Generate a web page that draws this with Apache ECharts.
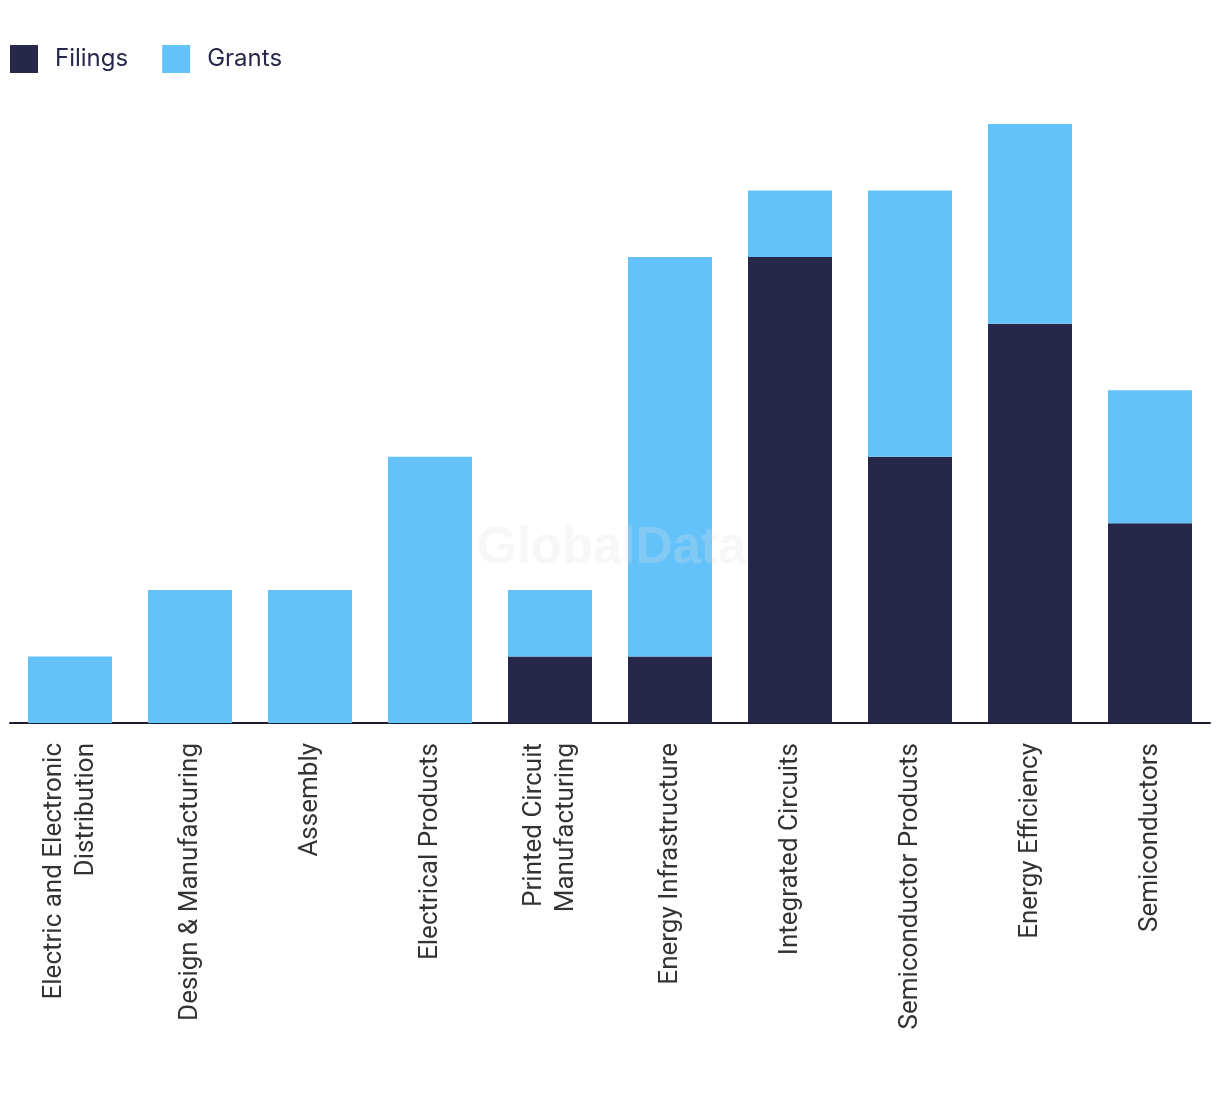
<!DOCTYPE html>
<html>
<head>
<meta charset="utf-8">
<script src="https://cdn.jsdelivr.net/npm/echarts@6/dist/echarts.min.js"></script>
<style>html,body{margin:0;padding:0;background:#fff;}#c{width:1220px;height:1094px;}</style>
</head>
<body>
<div id="c"></div>
<script>
const categories = [
  "Electric and Electronic\nDistribution",
  "Design & Manufacturing",
  "Assembly",
  "Electrical Products",
  "Printed Circuit\nManufacturing",
  "Energy Infrastructure",
  "Integrated Circuits",
  "Semiconductor Products",
  "Energy Efficiency",
  "Semiconductors"
];
const filings = [0, 0, 0, 0, 1, 1, 7, 4, 6, 3];
const grants = [1, 2, 2, 4, 1, 6, 1, 4, 3, 2];

const chart = echarts.init(document.getElementById('c'));
chart.setOption({
  animation: false,
  legend: {
    left: 10, top: 45, padding: 0,
    itemWidth: 28, itemHeight: 28, itemGap: 34,
    icon: 'rect',
    textStyle: { fontSize: 24, color: '#262749', fontFamily: 'Inter', padding: [0, 0, 0, 12] },
    data: ['Filings', 'Grants']
  },
  grid: { left: 10, right: 10, top: 124, bottom: 371, containLabel: false },
  xAxis: {
    type: 'category',
    data: categories,
    axisLine: { lineStyle: { color: '#1c1c2e', width: 2 } },
    axisTick: { show: false },
    axisLabel: {
      rotate: 90, interval: 0, margin: 20,
      fontSize: 26, lineHeight: 32, color: '#333333',
      fontFamily: 'Roboto'
    }
  },
  yAxis: { type: 'value', min: 0, max: 9, show: false, splitLine: { show: false } },
  series: [
    { name: 'Filings', type: 'bar', stack: 't', data: filings, barWidth: '70%', itemStyle: { color: '#262749' } },
    { name: 'Grants', type: 'bar', stack: 't', data: grants, barWidth: '70%', itemStyle: { color: '#63c2fa' } }
  ],
  graphic: [{
    type: 'text', left: 477, top: 523, z: 100,
    style: { text: 'GlobalData', font: 'bold 51px "Liberation Sans"', fill: 'rgba(225,225,225,0.25)' }
  }]
});
</script>
</body>
</html>
